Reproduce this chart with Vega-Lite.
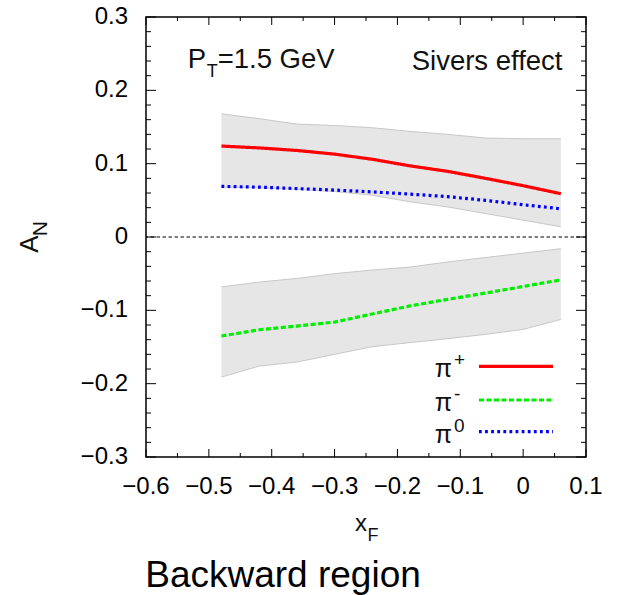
{
  "$schema": "https://vega.github.io/schema/vega-lite/v6.json",
  "width": 440,
  "height": 440,
  "autosize": {"type": "none"},
  "padding": {"left": 146, "top": 17, "right": 33, "bottom": 138},
  "background": "white",
  "config": {
    "view": {"stroke": "#000", "strokeWidth": 1.5},
    "font": "Liberation Sans",
    "axis": {"domain": false, "grid": false, "ticks": false, "tickSize": 0, "title": null, "labelFlush": false}
  },
  "datasets": {
    "curves": [
      {"xF": -0.48, "particle": "pi+", "A": 0.124},
      {"xF": -0.42, "particle": "pi+", "A": 0.1215},
      {"xF": -0.36, "particle": "pi+", "A": 0.118},
      {"xF": -0.30, "particle": "pi+", "A": 0.113},
      {"xF": -0.24, "particle": "pi+", "A": 0.106},
      {"xF": -0.18, "particle": "pi+", "A": 0.097},
      {"xF": -0.12, "particle": "pi+", "A": 0.0895},
      {"xF": -0.06, "particle": "pi+", "A": 0.080},
      {"xF": 0.00, "particle": "pi+", "A": 0.070},
      {"xF": 0.06, "particle": "pi+", "A": 0.059},
      {"xF": -0.48, "particle": "pi-", "A": -0.135},
      {"xF": -0.42, "particle": "pi-", "A": -0.1265},
      {"xF": -0.36, "particle": "pi-", "A": -0.1215},
      {"xF": -0.30, "particle": "pi-", "A": -0.116},
      {"xF": -0.24, "particle": "pi-", "A": -0.105},
      {"xF": -0.18, "particle": "pi-", "A": -0.094},
      {"xF": -0.12, "particle": "pi-", "A": -0.085},
      {"xF": -0.06, "particle": "pi-", "A": -0.0765},
      {"xF": 0.00, "particle": "pi-", "A": -0.0675},
      {"xF": 0.06, "particle": "pi-", "A": -0.0585},
      {"xF": -0.48, "particle": "pi0", "A": 0.069},
      {"xF": -0.42, "particle": "pi0", "A": 0.068},
      {"xF": -0.36, "particle": "pi0", "A": 0.066},
      {"xF": -0.30, "particle": "pi0", "A": 0.064},
      {"xF": -0.24, "particle": "pi0", "A": 0.0615},
      {"xF": -0.18, "particle": "pi0", "A": 0.0585},
      {"xF": -0.12, "particle": "pi0", "A": 0.055},
      {"xF": -0.06, "particle": "pi0", "A": 0.050},
      {"xF": 0.00, "particle": "pi0", "A": 0.044},
      {"xF": 0.06, "particle": "pi0", "A": 0.0385}
    ],
    "bands": [
      {"xF": -0.48, "band": "upper", "lo": 0.068, "hi": 0.168},
      {"xF": -0.42, "band": "upper", "lo": 0.067, "hi": 0.1614},
      {"xF": -0.36, "band": "upper", "lo": 0.065, "hi": 0.154},
      {"xF": -0.30, "band": "upper", "lo": 0.062, "hi": 0.152},
      {"xF": -0.24, "band": "upper", "lo": 0.057, "hi": 0.149},
      {"xF": -0.18, "band": "upper", "lo": 0.048, "hi": 0.144},
      {"xF": -0.12, "band": "upper", "lo": 0.041, "hi": 0.140},
      {"xF": -0.06, "band": "upper", "lo": 0.032, "hi": 0.135},
      {"xF": 0.00, "band": "upper", "lo": 0.023, "hi": 0.134},
      {"xF": 0.06, "band": "upper", "lo": 0.014, "hi": 0.134},
      {"xF": -0.48, "band": "lower", "lo": -0.191, "hi": -0.068},
      {"xF": -0.42, "band": "lower", "lo": -0.176, "hi": -0.0615},
      {"xF": -0.36, "band": "lower", "lo": -0.1706, "hi": -0.0565},
      {"xF": -0.30, "band": "lower", "lo": -0.160, "hi": -0.050},
      {"xF": -0.24, "band": "lower", "lo": -0.1496, "hi": -0.045},
      {"xF": -0.18, "band": "lower", "lo": -0.144, "hi": -0.041},
      {"xF": -0.12, "band": "lower", "lo": -0.1387, "hi": -0.034},
      {"xF": -0.06, "band": "lower", "lo": -0.1328, "hi": -0.028},
      {"xF": 0.00, "band": "lower", "lo": -0.126, "hi": -0.022},
      {"xF": 0.06, "band": "lower", "lo": -0.1124, "hi": -0.016}
    ],
    "xMajor": [{"v": -0.6}, {"v": -0.5}, {"v": -0.4}, {"v": -0.3}, {"v": -0.2}, {"v": -0.1}, {"v": 0}, {"v": 0.1}],
    "xMinor": [{"v": -0.55}, {"v": -0.45}, {"v": -0.35}, {"v": -0.25}, {"v": -0.15}, {"v": -0.05}, {"v": 0.05}],
    "yMajor": [{"v": -0.3}, {"v": -0.2}, {"v": -0.1}, {"v": 0}, {"v": 0.1}, {"v": 0.2}, {"v": 0.3}],
    "yMinor": [{"v": -0.28}, {"v": -0.26}, {"v": -0.24}, {"v": -0.22}, {"v": -0.18}, {"v": -0.16}, {"v": -0.14}, {"v": -0.12},
               {"v": -0.08}, {"v": -0.06}, {"v": -0.04}, {"v": -0.02}, {"v": 0.02}, {"v": 0.04}, {"v": 0.06}, {"v": 0.08},
               {"v": 0.12}, {"v": 0.14}, {"v": 0.16}, {"v": 0.18}, {"v": 0.22}, {"v": 0.24}, {"v": 0.26}, {"v": 0.28}],
    "xTickText": [{"v": -0.6}, {"v": -0.5}, {"v": -0.4}, {"v": -0.3}, {"v": -0.2}, {"v": -0.1}, {"v": 0}, {"v": 0.1}],
    "yTickText": [{"v": -0.3}, {"v": -0.2}, {"v": -0.1}, {"v": 0}, {"v": 0.1}, {"v": 0.2}, {"v": 0.3}],
    "key": [
      {"particle": "pi+", "sup": "+", "ly": -0.1764},
      {"particle": "pi-", "sup": "-", "ly": -0.2223},
      {"particle": "pi0", "sup": "0", "ly": -0.2654}
    ],
    "labels": [
      {"t": "P", "x": -0.5335, "y": 0.2305},
      {"t": "=1.5 GeV", "x": -0.4860, "y": 0.2305},
      {"t": "Sivers effect", "x": -0.1773, "y": 0.2272}
    ],
    "xtitle": [{"t": "x", "x": -0.2675, "y": -0.4008}],
    "subscripts": [
      {"t": "T", "x": -0.5035, "y": 0.2177},
      {"t": "F", "x": -0.2475, "y": -0.4144}
    ],
    "ytitle": [{"t": "A", "x": -0.7713, "y": -0.0215}],
    "ytitleSub": [{"t": "N", "x": -0.758, "y": 0.0011}],
    "caption": [{"t": "Backward region", "x": -0.382, "y": -0.4771}]
  },
  "layer": [
    {
      "data": {"name": "bands"},
      "mark": {"type": "area", "color": "#e6e6e6", "opacity": 1},
      "encoding": {
        "x": {"field": "xF", "type": "quantitative", "axis": null,
              "scale": {"domain": [-0.6, 0.1], "nice": false, "zero": false}},
        "y": {"field": "lo", "type": "quantitative", "axis": null,
              "scale": {"domain": [-0.3, 0.3], "nice": false, "zero": false}},
        "y2": {"field": "hi"},
        "detail": {"field": "band"}
      }
    },
    {
      "data": {"name": "bands"},
      "mark": {"type": "line", "color": "#c8c8c8", "strokeWidth": 1},
      "encoding": {
        "x": {"field": "xF", "type": "quantitative", "axis": null},
        "y": {"field": "lo", "type": "quantitative", "axis": null},
        "detail": {"field": "band"}
      }
    },
    {
      "data": {"name": "bands"},
      "mark": {"type": "line", "color": "#c8c8c8", "strokeWidth": 1},
      "encoding": {
        "x": {"field": "xF", "type": "quantitative", "axis": null},
        "y": {"field": "hi", "type": "quantitative", "axis": null},
        "detail": {"field": "band"}
      }
    },
    {
      "data": {"values": [{}]},
      "mark": {"type": "rule", "color": "#000", "strokeWidth": 1, "strokeDash": [3.5, 2.5]},
      "encoding": {
        "y": {"datum": 0, "type": "quantitative", "axis": null}
      }
    },
    {
      "data": {"name": "curves"},
      "mark": {"type": "line", "strokeWidth": 3.2},
      "encoding": {
        "x": {"field": "xF", "type": "quantitative", "axis": null},
        "y": {"field": "A", "type": "quantitative", "axis": null},
        "color": {"field": "particle", "type": "nominal", "legend": null,
                  "scale": {"domain": ["pi+", "pi-", "pi0"], "range": ["#ff0000", "#00ee00", "#0000ff"]}},
        "strokeDash": {"field": "particle", "type": "nominal", "legend": null,
                       "scale": {"domain": ["pi+", "pi-", "pi0"], "range": [[1, 0], [5, 2.5], [2.8, 3.3]]}}
      }
    },
    {
      "data": {"name": "key"},
      "mark": {"type": "rule", "strokeWidth": 3.2},
      "encoding": {
        "x": {"datum": -0.0703, "type": "quantitative", "axis": null},
        "x2": {"datum": 0.0475},
        "y": {"field": "ly", "type": "quantitative", "axis": null},
        "color": {"field": "particle", "type": "nominal", "legend": null},
        "strokeDash": {"field": "particle", "type": "nominal", "legend": null}
      }
    },
    {
      "data": {"name": "key"},
      "mark": {"type": "text", "text": "π", "fontSize": 25, "align": "right", "baseline": "alphabetic", "dy": 11, "color": "#111"},
      "encoding": {
        "x": {"datum": -0.113, "type": "quantitative", "axis": null},
        "y": {"field": "ly", "type": "quantitative", "axis": null}
      }
    },
    {
      "data": {"name": "key"},
      "mark": {"type": "text", "fontSize": 19, "align": "left", "baseline": "alphabetic", "dx": 2, "color": "#111"},
      "encoding": {
        "x": {"datum": -0.113, "type": "quantitative", "axis": null},
        "y": {"field": "ly", "type": "quantitative", "axis": null},
        "text": {"field": "sup"}
      }
    },
    {
      "data": {"name": "labels"},
      "mark": {"type": "text", "fontSize": 27.5, "align": "left", "baseline": "alphabetic", "color": "#111"},
      "encoding": {
        "x": {"field": "x", "type": "quantitative", "axis": null},
        "y": {"field": "y", "type": "quantitative", "axis": null},
        "text": {"field": "t"}
      }
    },
    {
      "data": {"name": "xtitle"},
      "mark": {"type": "text", "fontSize": 24, "align": "left", "baseline": "alphabetic", "color": "#111"},
      "encoding": {
        "x": {"field": "x", "type": "quantitative", "axis": null},
        "y": {"field": "y", "type": "quantitative", "axis": null},
        "text": {"field": "t"}
      }
    },
    {
      "data": {"name": "subscripts"},
      "mark": {"type": "text", "fontSize": 18, "align": "left", "baseline": "alphabetic", "color": "#111"},
      "encoding": {
        "x": {"field": "x", "type": "quantitative", "axis": null},
        "y": {"field": "y", "type": "quantitative", "axis": null},
        "text": {"field": "t"}
      }
    },
    {
      "data": {"name": "ytitle"},
      "mark": {"type": "text", "fontSize": 26, "angle": 270, "align": "left", "baseline": "alphabetic", "color": "#111"},
      "encoding": {
        "x": {"field": "x", "type": "quantitative", "axis": null},
        "y": {"field": "y", "type": "quantitative", "axis": null},
        "text": {"field": "t"}
      }
    },
    {
      "data": {"name": "ytitleSub"},
      "mark": {"type": "text", "fontSize": 21, "angle": 270, "align": "left", "baseline": "alphabetic", "color": "#111"},
      "encoding": {
        "x": {"field": "x", "type": "quantitative", "axis": null},
        "y": {"field": "y", "type": "quantitative", "axis": null},
        "text": {"field": "t"}
      }
    },
    {
      "data": {"name": "caption"},
      "mark": {"type": "text", "fontSize": 37, "align": "center", "baseline": "alphabetic", "color": "#000"},
      "encoding": {
        "x": {"field": "x", "type": "quantitative", "axis": null},
        "y": {"field": "y", "type": "quantitative", "axis": null},
        "text": {"field": "t"}
      }
    },
    {
      "data": {"name": "xTickText"},
      "mark": {"type": "text", "fontSize": 24, "align": "center", "baseline": "alphabetic", "dy": 37, "color": "#000"},
      "encoding": {
        "x": {"field": "v", "type": "quantitative", "axis": null},
        "y": {"datum": -0.3, "type": "quantitative", "axis": null},
        "text": {"field": "v", "type": "quantitative", "format": "~g"}
      }
    },
    {
      "data": {"name": "yTickText"},
      "mark": {"type": "text", "fontSize": 24, "align": "right", "baseline": "middle", "dx": -18, "color": "#000"},
      "encoding": {
        "y": {"field": "v", "type": "quantitative", "axis": null},
        "x": {"datum": -0.6, "type": "quantitative", "axis": null},
        "text": {"field": "v", "type": "quantitative", "format": "~g"}
      }
    },
    {
      "data": {"name": "xMajor"},
      "mark": {"type": "tick", "orient": "vertical", "size": 8, "thickness": 1, "color": "#000", "opacity": 1, "yOffset": -4},
      "encoding": {"x": {"field": "v", "type": "quantitative", "axis": null}, "y": {"datum": -0.3, "type": "quantitative", "axis": null}}
    },
    {
      "data": {"name": "xMajor"},
      "mark": {"type": "tick", "orient": "vertical", "size": 8, "thickness": 1, "color": "#000", "opacity": 1, "yOffset": 4},
      "encoding": {"x": {"field": "v", "type": "quantitative", "axis": null}, "y": {"datum": 0.3, "type": "quantitative", "axis": null}}
    },
    {
      "data": {"name": "xMinor"},
      "mark": {"type": "tick", "orient": "vertical", "size": 4, "thickness": 1, "color": "#000", "opacity": 1, "yOffset": -2},
      "encoding": {"x": {"field": "v", "type": "quantitative", "axis": null}, "y": {"datum": -0.3, "type": "quantitative", "axis": null}}
    },
    {
      "data": {"name": "xMinor"},
      "mark": {"type": "tick", "orient": "vertical", "size": 4, "thickness": 1, "color": "#000", "opacity": 1, "yOffset": 2},
      "encoding": {"x": {"field": "v", "type": "quantitative", "axis": null}, "y": {"datum": 0.3, "type": "quantitative", "axis": null}}
    },
    {
      "data": {"name": "yMajor"},
      "mark": {"type": "tick", "orient": "horizontal", "size": 10, "thickness": 1, "color": "#000", "opacity": 1, "xOffset": 5},
      "encoding": {"y": {"field": "v", "type": "quantitative", "axis": null}, "x": {"datum": -0.6, "type": "quantitative", "axis": null}}
    },
    {
      "data": {"name": "yMajor"},
      "mark": {"type": "tick", "orient": "horizontal", "size": 10, "thickness": 1, "color": "#000", "opacity": 1, "xOffset": -5},
      "encoding": {"y": {"field": "v", "type": "quantitative", "axis": null}, "x": {"datum": 0.1, "type": "quantitative", "axis": null}}
    },
    {
      "data": {"name": "yMinor"},
      "mark": {"type": "tick", "orient": "horizontal", "size": 5, "thickness": 1, "color": "#000", "opacity": 1, "xOffset": 2.5},
      "encoding": {"y": {"field": "v", "type": "quantitative", "axis": null}, "x": {"datum": -0.6, "type": "quantitative", "axis": null}}
    },
    {
      "data": {"name": "yMinor"},
      "mark": {"type": "tick", "orient": "horizontal", "size": 5, "thickness": 1, "color": "#000", "opacity": 1, "xOffset": -2.5},
      "encoding": {"y": {"field": "v", "type": "quantitative", "axis": null}, "x": {"datum": 0.1, "type": "quantitative", "axis": null}}
    }
  ]
}
